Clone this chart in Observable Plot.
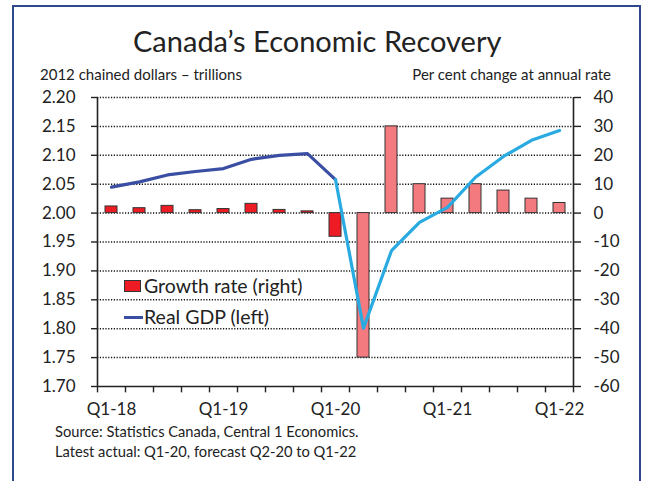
<!DOCTYPE html>
<html>
<head>
<meta charset="utf-8">
<script src="https://cdn.jsdelivr.net/npm/d3@7"></script>
<script src="https://cdn.jsdelivr.net/npm/@observablehq/plot@0.6"></script>
<style>
  html, body { margin: 0; padding: 0; background: #fff; }
  #wrap { position: relative; width: 652px; height: 481px; overflow: hidden; font-family: Lato, "Open Sans", sans-serif; color: #222; }
  #frame { position: absolute; left: 12px; top: 5px; width: 629px; height: 520px; border: 2.5px solid #2f4a8c; box-sizing: border-box; }
  .t { position: absolute; white-space: nowrap; line-height: 1; }
  #chart { position: absolute; left: 0; top: 0; }
</style>
</head>
<body>
<div id="wrap">
  <div id="frame"></div>
  <div id="chart"></div>
  <div class="t" style="left:133px; top:26px; font-size:29px;">Canada’s Economic Recovery</div>
  <div class="t" style="left:40px; top:67px; font-size:15px;">2012 chained dollars – trillions</div>
  <div class="t" style="right:41px; top:67px; font-size:15px;">Per cent change at annual rate</div>
  <div class="t" style="left:124px; top:280px; width:17px; height:12px; background:#ed1c24; border:1px solid #333; box-sizing:border-box;"></div>
  <div class="t" style="left:144px; top:276px; font-size:19.5px;">Growth rate (right)</div>
  <div class="t" style="left:124px; top:316px; width:19px; height:3px; background:#3a4ea3;"></div>
  <div class="t" style="left:144px; top:307px; font-size:19.5px;">Real GDP (left)</div>
  <div class="t" style="left:55px; top:424px; font-size:14.7px;">Source: Statistics Canada, Central 1 Economics.</div>
  <div class="t" style="left:55px; top:444px; font-size:14.7px;">Latest actual: Q1-20, forecast Q2-20 to Q1-22</div>
</div>
<script>
// Quarters Q1-18 .. Q1-22
const quarters = ["Q1-18","Q2-18","Q3-18","Q4-18","Q1-19","Q2-19","Q3-19","Q4-19","Q1-20","Q2-20","Q3-20","Q4-20","Q1-21","Q2-21","Q3-21","Q4-21","Q1-22"];
const xLabels = ["Q1-18","Q1-19","Q1-20","Q1-21","Q1-22"];
// Growth rate, per cent change at annual rate (right axis)
const growth = [2.3, 1.7, 2.5, 1.0, 1.4, 3.2, 1.1, 0.6, -8.2, -50, 30, 10, 5, 10, 7.8, 5, 3.5];
// Actual (true) vs forecast (false)
const isActual = [true,true,true,true,true,true,true,true,true,false,false,false,false,false,false,false,false];
// Real GDP, 2012 chained dollars, trillions (left axis)
const gdp = [2.045, 2.054, 2.066, 2.072, 2.077, 2.093, 2.100, 2.103, 2.058, 1.801, 1.935, 1.984, 2.010, 2.062, 2.098, 2.126, 2.143];
const rightTicks = [-60, -50, -40, -30, -20, -10, 0, 10, 20, 30, 40];
const leftTicks = ["1.70","1.75","1.80","1.85","1.90","1.95","2.00","2.05","2.10","2.15","2.20"];

const rows = quarters.map((q, i) => ({q, growth: growth[i], actual: isActual[i], gdp: gdp[i], i}));
// map left-axis values (trillions) onto the right-axis (per cent) scale
const gdpToPct = v => (v - 2.00) / 0.05 * 10;
const actualIdx = quarters.indexOf("Q1-20");
const hist = rows.filter(d => d.i <= actualIdx);
const fcst = rows.filter(d => d.i >= actualIdx);

const W = 652, H = 481, mL = 97, mR = 79, mT = 97, mB = 95;
const bw = (W - mL - mR) / quarters.length;

const chart = Plot.plot({
  width: W, height: H,
  marginLeft: mL, marginRight: mR, marginTop: mT, marginBottom: mB,
  style: {fontFamily: "Lato, 'Open Sans', sans-serif", fontSize: "17px", color: "#222", background: "transparent"},
  x: {type: "band", domain: quarters, padding: 0, axis: null, label: null},
  y: {domain: [-60, 40], axis: null, label: null},
  marks: [
    Plot.ruleY(rightTicks.filter(d => d > -60), {stroke: "#111", strokeWidth: 1.5, strokeDasharray: "1.2,1.6"}),
    Plot.barY(rows, {x: "q", y: "growth", fill: d => d.actual ? "#ed1c24" : "#f37b80", stroke: "#333", strokeWidth: 1, insetLeft: 8, insetRight: 8}),
    Plot.line(hist, {x: "q", y: d => gdpToPct(d.gdp), stroke: "#3a4ea3", strokeWidth: 3.2}),
    Plot.line(fcst, {x: "q", y: d => gdpToPct(d.gdp), stroke: "#29abe2", strokeWidth: 3.2}),
    // axis lines
    Plot.ruleY([-60], {stroke: "#222", strokeWidth: 1.6}),
    Plot.ruleX([quarters[0]], {y1: -60, y2: 40, dx: -bw / 2, stroke: "#222", strokeWidth: 1.6}),
    Plot.ruleX([quarters[quarters.length - 1]], {y1: -60, y2: 40, dx: bw / 2, stroke: "#222", strokeWidth: 1.6}),
    // x ticks at band boundaries
    Plot.ruleX(quarters, {y1: -60, y2: -62.2, dx: -bw / 2, stroke: "#222", strokeWidth: 1.4}),
    Plot.ruleX([quarters[quarters.length - 1]], {y1: -60, y2: -62.2, dx: bw / 2, stroke: "#222", strokeWidth: 1.4}),
    Plot.axisX(xLabels, {tickSize: 0, tickPadding: 16, fontSize: 17, label: null}),
    Plot.axisY(rightTicks, {anchor: "left", tickSize: 6, tickPadding: 16, tickFormat: (d, i) => leftTicks[rightTicks.indexOf(d)], fontSize: 17, strokeWidth: 1.4, label: null}),
    Plot.axisY(rightTicks, {anchor: "right", tickSize: 7, tickPadding: 13, tickFormat: d => String(d), fontSize: 17, strokeWidth: 1.4, label: null})
  ]
});
document.getElementById("chart").appendChild(chart);
</script>
</body>
</html>
